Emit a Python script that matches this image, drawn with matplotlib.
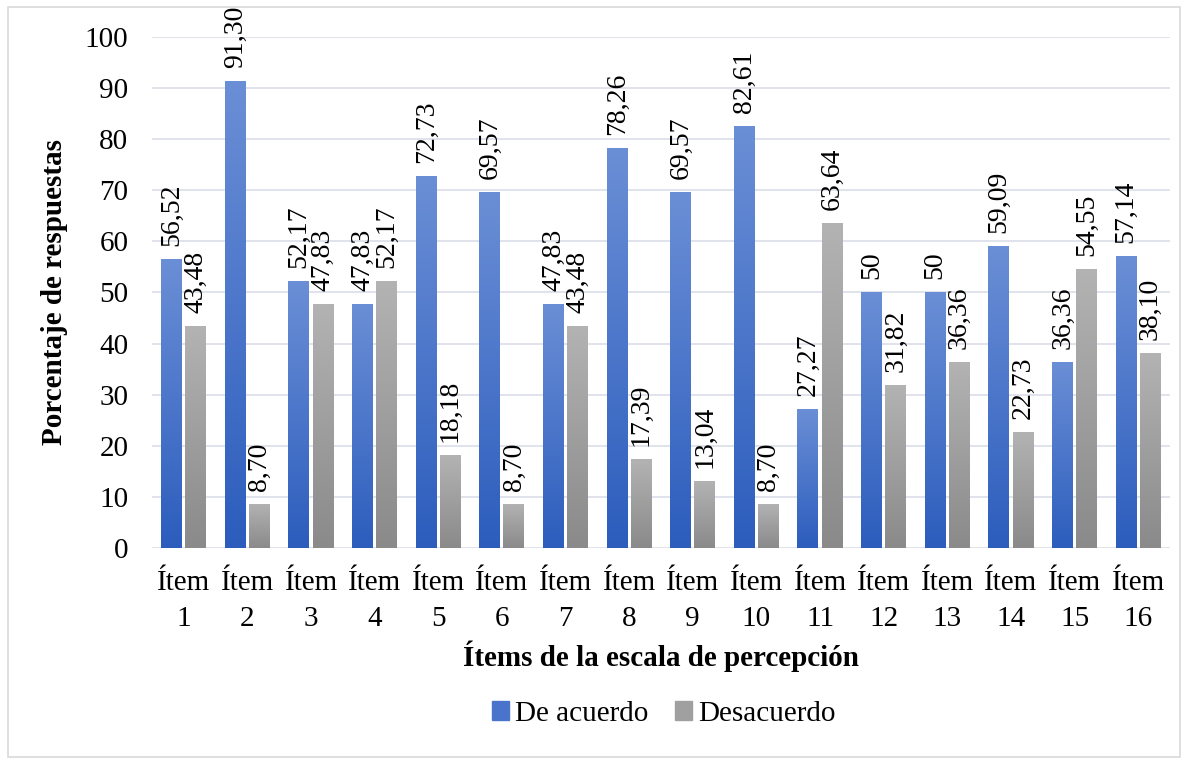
import numpy as np
import matplotlib.pyplot as plt
from matplotlib.patches import Rectangle
from matplotlib.colors import LinearSegmentedColormap

items = ["Ítem\n%d" % i for i in range(1, 17)]
de_acuerdo = [56.52, 91.30, 52.17, 47.83, 72.73, 69.57, 47.83, 78.26,
              69.57, 82.61, 27.27, 50, 50, 59.09, 36.36, 57.14]
desacuerdo = [43.48, 8.70, 47.83, 52.17, 18.18, 8.70, 43.48, 17.39,
              13.04, 8.70, 63.64, 31.82, 36.36, 22.73, 54.55, 38.10]
etq_acuerdo = ["56,52", "91,30", "52,17", "47,83", "72,73", "69,57", "47,83", "78,26",
               "69,57", "82,61", "27,27", "50", "50", "59,09", "36,36", "57,14"]
etq_desac = ["43,48", "8,70", "47,83", "52,17", "18,18", "8,70", "43,48", "17,39",
             "13,04", "8,70", "63,64", "31,82", "36,36", "22,73", "54,55", "38,10"]

plt.rcParams['font.family'] = ['Liberation Serif', 'DejaVu Serif']

fig = plt.figure(figsize=(11.87, 7.64), dpi=100)
ax = fig.add_axes([0.128, 0.2827, 0.8577, 0.6689])

x = np.arange(len(items))
w = 0.33
off = 0.19

azul = LinearSegmentedColormap.from_list("azul", ["#2c5dbd", "#6b8fd6"])
gris = LinearSegmentedColormap.from_list("gris", ["#8a8a8a", "#b3b3b3"])
grad = np.linspace(0, 1, 256).reshape(-1, 1)

def barras_degradado(pos, vals, cmap):
    bars = ax.bar(pos, vals, w, color="none", zorder=3)
    for b in bars:
        x0, y0 = b.get_x(), b.get_y()
        x1, y1 = x0 + b.get_width(), y0 + b.get_height()
        im = ax.imshow(grad, cmap=cmap, origin="lower", aspect="auto",
                       extent=[x0, x1, y0, y1], zorder=3)
        im.set_clip_path(b)
    return bars

barras_degradado(x - off, de_acuerdo, azul)
barras_degradado(x + off, desacuerdo, gris)

# etiquetas de valor, verticales y algo separadas de la barra
for xi, v, t in zip(x - off, de_acuerdo, etq_acuerdo):
    ax.annotate(t, (xi, v), xytext=(0, 13), textcoords="offset pixels",
                rotation=90, ha="center", va="bottom", fontsize=20,
                annotation_clip=False)
for xi, v, t in zip(x + off, desacuerdo, etq_desac):
    ax.annotate(t, (xi, v), xytext=(0, 13), textcoords="offset pixels",
                rotation=90, ha="center", va="bottom", fontsize=20,
                annotation_clip=False)

ax.set_xlim(-0.5, len(items) - 0.5)
ax.set_ylim(0, 100)
ax.set_yticks(range(0, 101, 10))
ax.set_xticks(x)
ax.set_xticklabels(items, fontsize=21, linespacing=1.5)
ax.tick_params(axis="y", labelsize=21, length=0, pad=17)
ax.tick_params(axis="x", length=0, pad=16)
ax.grid(axis="y", color="#dde1ea", linewidth=1.3, zorder=0)
for s in ax.spines.values():
    s.set_visible(False)

ax.set_ylabel("Porcentaje de respuestas", fontsize=21, fontweight="bold", labelpad=12)
ax.set_xlabel("Ítems de la escala de percepción", fontsize=21, fontweight="bold",
              labelpad=6)

h1 = Rectangle((0, 0), 1, 1, color="#4a74cc")
h2 = Rectangle((0, 0), 1, 1, color="#a0a0a0")
fig.legend([h1, h2], ["De acuerdo", "Desacuerdo"], loc="center",
           bbox_to_anchor=(0.559, 0.066), ncol=2, frameon=False, fontsize=21,
           handlelength=0.6, handleheight=0.6, handletextpad=0.2, columnspacing=0.9)

fig.patches.append(Rectangle((8 / 1187, 7 / 764), 1172 / 1187, 750 / 764,
                             transform=fig.transFigure, fill=False,
                             edgecolor="#d9d9d9", linewidth=1.2))

fig.savefig("out.png", dpi=100)
